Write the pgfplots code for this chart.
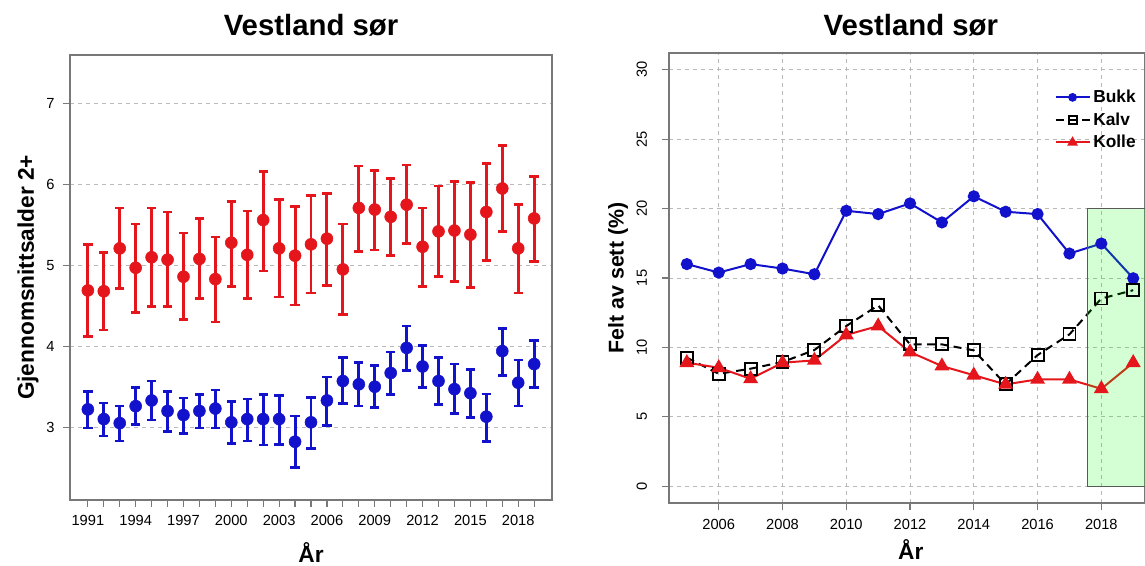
\documentclass[border=0pt]{standalone}
\usepackage{fontspec}
\setmainfont{Liberation Sans}
\usepackage{pgfplots}
\pgfplotsset{compat=1.18}
\usepackage{pgfplotstable}
\definecolor{rred}{RGB}{228,22,28}
\definecolor{rblue}{RGB}{18,18,205}
\definecolor{framegray}{RGB}{120,120,120}
\definecolor{gridgray}{RGB}{185,185,185}

\pgfplotstableread{
x y lo hi
1991 4.69 4.12 5.26
1992 4.68 4.20 5.16
1993 5.21 4.71 5.71
1994 4.97 4.42 5.51
1995 5.10 4.49 5.71
1996 5.07 4.49 5.66
1997 4.86 4.33 5.40
1998 5.08 4.59 5.58
1999 4.83 4.30 5.35
2000 5.28 4.74 5.79
2001 5.13 4.59 5.67
2002 5.56 4.93 6.16
2003 5.21 4.61 5.81
2004 5.12 4.51 5.73
2005 5.26 4.66 5.86
2006 5.33 4.75 5.89
2007 4.95 4.39 5.51
2008 5.71 5.17 6.23
2009 5.69 5.19 6.17
2010 5.60 5.12 6.07
2011 5.75 5.27 6.24
2012 5.23 4.74 5.71
2013 5.42 4.86 5.98
2014 5.43 4.80 6.04
2015 5.38 4.73 6.02
2016 5.66 5.06 6.26
2017 5.95 5.42 6.48
2018 5.21 4.66 5.75
2019 5.58 5.05 6.10
}\redtab

\pgfplotstableread{
x y lo hi
1991 3.22 2.99 3.44
1992 3.10 2.89 3.30
1993 3.05 2.83 3.26
1994 3.26 3.03 3.49
1995 3.33 3.09 3.57
1996 3.20 2.95 3.44
1997 3.15 2.92 3.36
1998 3.20 2.99 3.40
1999 3.23 2.99 3.46
2000 3.06 2.80 3.32
2001 3.10 2.83 3.35
2002 3.10 2.78 3.40
2003 3.10 2.79 3.39
2004 2.82 2.50 3.14
2005 3.06 2.74 3.37
2006 3.33 3.02 3.62
2007 3.57 3.29 3.86
2008 3.53 3.26 3.80
2009 3.50 3.24 3.76
2010 3.67 3.40 3.93
2011 3.98 3.70 4.25
2012 3.75 3.49 4.01
2013 3.57 3.28 3.86
2014 3.47 3.17 3.78
2015 3.42 3.12 3.71
2016 3.13 2.82 3.41
2017 3.94 3.64 4.22
2018 3.55 3.26 3.83
2019 3.78 3.49 4.07
}\bluetab

\pgfplotstableread{
x bukk kalv kolle
2005 16.00 9.26 8.90
2006 15.39 8.10 8.54
2007 16.00 8.47 7.74
2008 15.68 8.95 8.90
2009 15.27 9.81 9.07
2010 19.84 11.54 10.90
2011 19.60 13.03 11.54
2012 20.37 10.22 9.67
2013 19.00 10.22 8.66
2014 20.88 9.79 8.00
2015 19.77 7.34 7.34
2016 19.60 9.45 7.70
2017 16.76 10.94 7.70
2018 17.48 13.52 7.02
2019 14.98 14.12 8.90
}\felttab

\pgfplotsset{rstyle/.style={
  scale only axis,
  axis line style={framegray, line width=0.9pt},
  tick style={framegray, line width=0.9pt},
  tick align=outside,
  major tick length=5pt, minor tick length=5pt,
  xtick pos=bottom, ytick pos=left,
  grid style={gridgray, dashed, line width=0.6pt},
  /pgf/number format/assume math mode=true,
  /pgf/number format/set thousands separator={},
  title style={font=\bfseries\fontsize{22}{26}\selectfont},
  label style={font=\bfseries\fontsize{17}{20}\selectfont},
}}

\begin{document}
\begin{tikzpicture}
\path[use as bounding box] (0,0) rectangle (858.75pt,424.5pt);

\begin{axis}[rstyle,
  at={(52.5pt,49.5pt)}, anchor=south west,
  width=361.5pt, height=333.75pt,
  xmin=1989.88, xmax=2020.12, ymin=2.1, ymax=7.6,
  xtick={1991,1994,...,2018}, minor xtick={1991,...,2019},
  ytick={3,4,5,6,7}, ymajorgrids,
  tick label style={font=\fontsize{11}{13}\selectfont},
  xticklabel style={yshift=-3pt},
  yticklabel style={xshift=-3pt},
  title={Vestland sør}, title style={at={(axis description cs:0.5,1.049)}, anchor=center},
  xlabel={År}, xlabel style={at={(axis description cs:0.5,-0.119)}, anchor=center},
  ylabel={Gjennomsnittsalder 2+}, ylabel style={at={(axis description cs:-0.087,0.5)}, anchor=center},
]
\addplot[rred, only marks, mark=*, mark size=4.5pt,
  error bars/.cd, y dir=both, y explicit,
  error bar style={line width=2.2pt, rred},
  error mark options={rotate=90, rred, line width=2pt, mark size=3.5pt}]
  table[x=x, y=y, y error plus expr=\thisrow{hi}-\thisrow{y}, y error minus expr=\thisrow{y}-\thisrow{lo}] {\redtab};
\addplot[rblue, only marks, mark=*, mark size=4.5pt,
  error bars/.cd, y dir=both, y explicit,
  error bar style={line width=2.2pt, rblue},
  error mark options={rotate=90, rblue, line width=2pt, mark size=3.5pt}]
  table[x=x, y=y, y error plus expr=\thisrow{hi}-\thisrow{y}, y error minus expr=\thisrow{y}-\thisrow{lo}] {\bluetab};
\end{axis}

\begin{axis}[rstyle,
  at={(501.75pt,47.25pt)}, anchor=south west,
  width=357pt, height=337.5pt,
  xmin=2004.44, xmax=2019.37, ymin=-1.2, ymax=31.2,
  xtick={2006,2008,...,2018}, ytick={0,5,...,30},
  xmajorgrids, ymajorgrids,
  tick label style={font=\fontsize{11}{13}\selectfont},
  xticklabel style={yshift=-4pt},
  yticklabel style={xshift=-8pt, rotate=90, anchor=south},
  title={Vestland sør}, title style={at={(axis description cs:0.508,1.044)}, anchor=center},
  xlabel={År}, xlabel style={at={(axis description cs:0.508,-0.104)}, anchor=center},
  ylabel={Felt av sett (\%)}, ylabel style={at={(axis description cs:-0.107,0.5)}, anchor=center, font=\bfseries\fontsize{16}{19}\selectfont},
  legend style={draw=none, fill=none, at={(axis description cs:0.995,0.93)}, anchor=north east,
    font=\bfseries\fontsize{13}{16}\selectfont, row sep=2pt, legend cell align=left},
  legend image code/.code={\draw[mark repeat=2,mark phase=2] plot coordinates {(0cm,0cm) (0.45cm,0cm) (0.9cm,0cm)};},
]
\addplot[rblue, line width=1.5pt, mark=*, mark size=3.8pt, legend image post style={mark size=2.5pt}] table[x=x, y=bukk] {\felttab};
\addlegendentry{Bukk}
\addplot[black, line width=1.5pt, dash pattern=on 6pt off 4pt, mark=square, mark size=4.5pt, mark options={solid, line width=1.4pt}, legend image post style={mark size=3pt}] table[x=x, y=kalv] {\felttab};
\addlegendentry{Kalv}
\addplot[rred, line width=1.5pt, mark=triangle*, mark size=5pt, legend image post style={mark size=3.2pt}] table[x=x, y=kolle] {\felttab};
\addlegendentry{Kolle}
\draw[draw=black!65, line width=0.8pt, fill=green, fill opacity=0.17] (axis cs:2017.58,0) rectangle (axis cs:2019.56,20);
\end{axis}
\end{tikzpicture}
\end{document}
